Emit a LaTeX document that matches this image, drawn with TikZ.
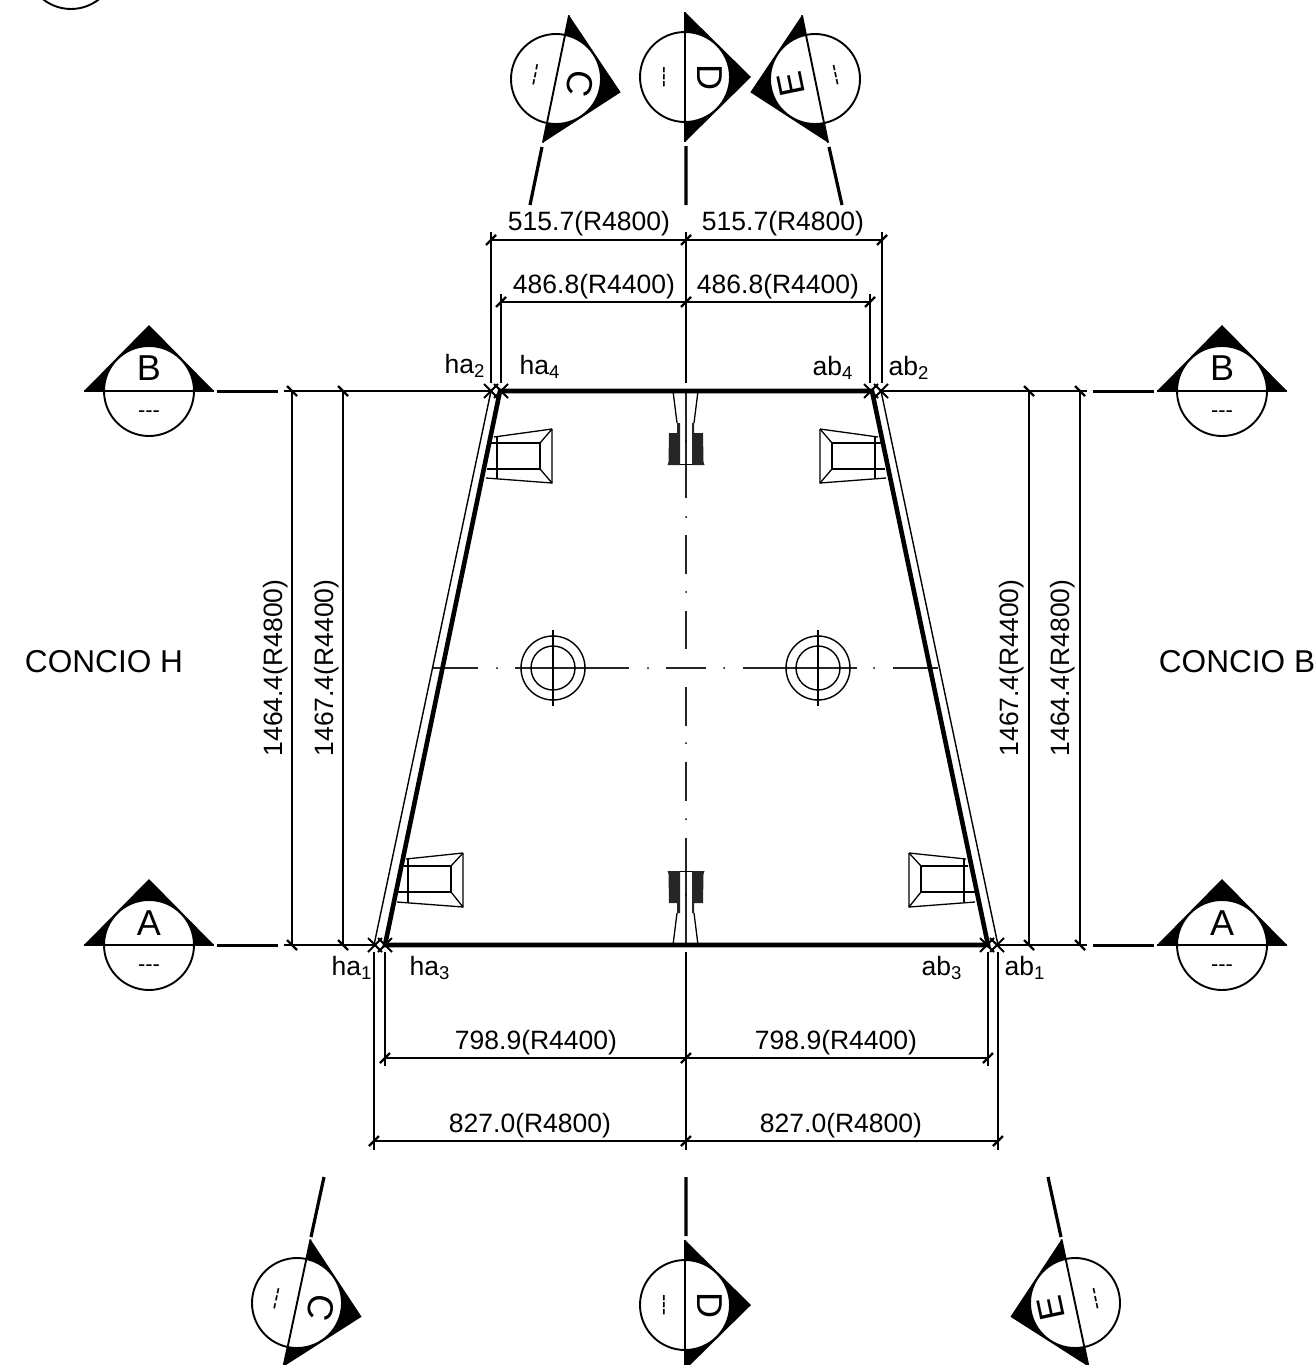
\documentclass[tikz,border=0pt]{standalone}
\usepackage{fontspec}
\setmainfont{Liberation Sans}
\tikzset{
  base/.style={line width=0.95pt,black},
  heavy/.style={line width=2.3pt,black},
  stub/.style={line width=1.2pt,black},
  fine/.style={line width=0.65pt,black},
  axis/.style={line width=0.7pt,black!85},
  dimtext/.style={font=\fontsize{13.25}{15}\selectfont,inner sep=0pt},
  bigtext/.style={font=\fontsize{15.8}{18}\selectfont,inner sep=0pt},
  marktext/.style={font=\fontsize{18}{20}\selectfont,inner sep=0pt,transform shape},
  marksmall/.style={font=\fontsize{11}{12}\selectfont,inner sep=0pt,transform shape}
}
\newcommand{\secmark}[6][-22.5]{%
  \begin{scope}[shift={(#2,#3)},rotate=#4]
    \fill[black] (-65,0) -- (0,-66) -- (65,0) -- cycle;
    \draw[base,fill=white] (0,0) circle[radius=45];
    \draw[base] (-65,0) -- (65,0);
    \node[marktext] (let#6) at (0,#1) {#5};
    \node[marksmall] (das#6) at (0,23.5) {{-}{-}{-}};
  \end{scope}}
\newcommand{\ticku}[2]{\draw[stub] (#1-5,#2+5) -- (#1+5,#2-5);}
\newcommand{\tickd}[2]{\draw[stub] (#1-5,#2-5) -- (#1+5,#2+5);}
\newcommand{\crossm}[2]{\draw[base] (#1-7,#2-7) -- (#1+7,#2+7) (#1-7,#2+7) -- (#1+7,#2-7);}
\newcommand{\diam}[2]{\draw[fine] (#1-5.5,#2) -- (#1,#2-5.5) -- (#1+5.5,#2) -- (#1,#2+5.5) -- cycle;}
\newcommand{\notch}{%
  \draw[fine] (-13,0) -- (-9,32) (12,0) -- (8,32);
  \fill[black!85] (-9,32) -- (-6,32) -- (-6,74) -- (-18.5,74) -- (-17.5,71) -- (-17,42) -- (-9,42) -- cycle;
  \fill[black!85] (8,32) -- (6,32) -- (6,74) -- (18.5,74) -- (17.5,71) -- (17,42) -- (8,42) -- cycle;
  \draw[fine] (-6,73.5) -- (6,73.5);
  \fill (0,50) circle[radius=0.8];
}
\newcommand{\wedgetop}{%
  \draw[fine] (552,429) -- (552,483) -- (486,478);
  \draw[fine] (552,429) -- (494,437);
  \draw[fine] (491,443) -- (540,443) -- (540,469) -- (487,469);
  \draw[fine] (552,429) -- (540,443) (552,483) -- (540,469);
  \draw[fine] (497,437) -- (497,478);
}
\newcommand{\wedgebot}{%
  \draw[fine] (463,853) -- (463,907) -- (397,902);
  \draw[fine] (463,853) -- (406,859);
  \draw[fine] (404,866) -- (451,866) -- (451,892) -- (397,892);
  \draw[fine] (463,853) -- (451,866) (463,907) -- (451,892);
  \draw[fine] (408,859) -- (408,902);
}
\begin{document}
\begin{tikzpicture}[x=0.5pt,y=-0.5pt]
\useasboundingbox (0,0) rectangle (1316,1365);
\clip (0,0) rectangle (1316,1365);
\fill[white] (0,0) rectangle (1316,1365);

% partial circle at the top left
\draw[base] (71,-36) circle[radius=45];

% axes
\draw[axis] (686,392) -- (686,498) (686,535) -- (686,574) (686,611) -- (686,649)
  (686,687) -- (686,726) (686,762) -- (686,801) (686,838) -- (686,944);
\foreach \yy in {517,592,743,819} {\fill (686,\yy) circle[radius=1];}
\draw[axis] (433,668) -- (478,668) (515,668) -- (629,668) (666,668) -- (706,668)
  (743,668) -- (857,668) (893,668) -- (938,668);
\foreach \xx in {497,648,724,874} {\fill (\xx,668) circle[radius=1];}

% plugs
\foreach \cx in {553,818} {
  \draw[fine,line width=0.7pt] (\cx,668) circle[radius=32] (\cx,668) circle[radius=22];
  \draw[fine,line width=0.7pt] (\cx,630) -- (\cx,706);
}

% wedges
\wedgetop \wedgebot
\begin{scope}[shift={(1372,0)},xscale=-1]
  \wedgetop \wedgebot
\end{scope}

% central notches
\begin{scope}[shift={(686,391)}] \notch \end{scope}
\begin{scope}[shift={(686,945)},yscale=-1] \notch \end{scope}

% outer lines
\draw[fine,line width=0.7pt] (491,391) -- (374,945) (881,391) -- (998,945);
\draw[heavy] (500,391) -- (872,391) -- (988,945) -- (385,945) -- cycle;

% section lines
\draw[line width=1.5pt] (217,391) -- (278,391) (1093,391) -- (1154,391)
  (217,945) -- (278,945) (1093,945) -- (1154,945);
\draw[stub] (284,391) -- (491,391) (881,391) -- (1087,391)
  (284,945) -- (374,945) (998,945) -- (1087,945);
\draw[line width=1.6pt] (542,147) -- (530,205) (686,146) -- (686,205) (829,147) -- (842,205)
  (324,1177) -- (311,1237) (686,1177) -- (686,1236) (1048,1177) -- (1061,1237);

% extension lines
\draw[base] (491,232) -- (491,383) (882,232) -- (882,383)
  (501,294) -- (501,383) (870,294) -- (870,383)
  (374,952) -- (374,1150) (998,952) -- (998,1150)
  (385,952) -- (385,1066) (988,952) -- (988,1066);
\draw[line width=1.4pt] (686,232) -- (686,383) (686,952) -- (686,1150);

% dimension lines
\draw[base] (491,240) -- (882,240) (501,302) -- (870,302)
  (384,1058) -- (988,1058) (374,1141) -- (998,1141);
\draw[base] (292,391) -- (292,945) (343,391) -- (343,945)
  (1029,391) -- (1029,945) (1080,391) -- (1080,945);
\foreach \xx in {491,686,882} {\ticku{\xx}{240}}
\foreach \xx in {501,686,870} {\ticku{\xx}{302}}
\foreach \xx in {385,686,988} {\ticku{\xx}{1058}}
\foreach \xx in {374,686,998} {\ticku{\xx}{1141}}
\foreach \xx in {292,343,1029,1080} {\tickd{\xx}{391} \tickd{\xx}{945}}

% corner marks
\foreach \xx in {491,501,871,881} {\crossm{\xx}{391}}
\foreach \xx in {375,385,987,997} {\crossm{\xx}{945}}
\diam{496}{391} \diam{876}{391} \diam{380}{945} \diam{992}{945}

% section markers
\secmark{149}{391}{0}{B}{bl}
\secmark{1222}{391}{0}{B}{br}
\secmark[-21.5]{149}{945}{0}{A}{al}
\secmark[-21.5]{1222}{945}{0}{A}{ar}
\secmark[-24.5]{556}{79}{-101.6}{C}{ct}
\secmark[-24.5]{685}{77}{-90}{D}{dt}
\secmark[-24.5]{815}{79}{101.6}{E}{et}
\secmark[-24.5]{297}{1303}{-102}{C}{cb}
\secmark[-24.5]{685}{1305}{-90}{D}{db}
\secmark[-24.5]{1075}{1303}{102}{E}{eb}

% dimension texts
\node[dimtext] (t1) at (589,224) {515.7(R4800)};
\node[dimtext] (t2) at (783,224) {515.7(R4800)};
\node[dimtext] (t3) at (594,287) {486.8(R4400)};
\node[dimtext] (t4) at (778,287) {486.8(R4400)};
\node[dimtext] (t5) at (536,1043) {798.9(R4400)};
\node[dimtext] (t6) at (836,1043) {798.9(R4400)};
\node[dimtext] (t7) at (530,1126) {827.0(R4800)};
\node[dimtext] (t8) at (841,1126) {827.0(R4800)};
\node[dimtext,rotate=90] (t9) at (276,668) {1464.4(R4800)};
\node[dimtext,rotate=90] (t10) at (327,668) {1467.4(R4400)};
\node[dimtext,rotate=90] (t11) at (1012,668) {1467.4(R4400)};
\node[dimtext,rotate=90] (t12) at (1063,668) {1464.4(R4800)};

% point labels
\node[dimtext] (p1) at (465,366) {ha\textsubscript{2}};
\node[dimtext] (p2) at (540,367) {ha\textsubscript{4}};
\node[dimtext] (p3) at (833,368) {ab\textsubscript{4}};
\node[dimtext] (p4) at (909,368) {ab\textsubscript{2}};
\node[dimtext] (p5) at (352,968) {ha\textsubscript{1}};
\node[dimtext] (p6) at (430,968) {ha\textsubscript{3}};
\node[dimtext] (p7) at (942,968) {ab\textsubscript{3}};
\node[dimtext] (p8) at (1025,968) {ab\textsubscript{1}};

% titles
\node[bigtext] (h) at (104,662) {CONCIO H};
\node[bigtext,anchor=west] (b) at (1158.5,662) {CONCIO B};
\end{tikzpicture}
\end{document}
